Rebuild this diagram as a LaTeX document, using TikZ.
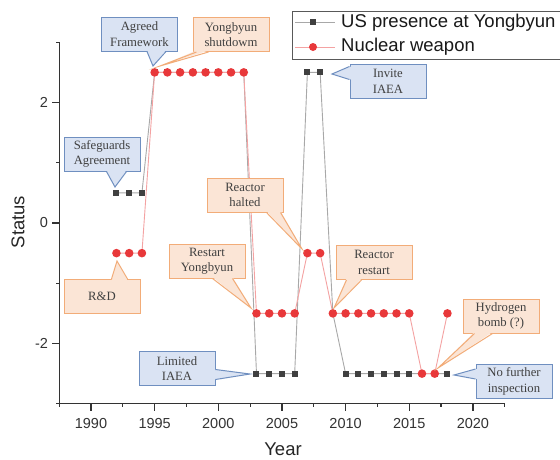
\documentclass[tikz,border=0pt]{standalone}
\usepackage{fontspec}
\setmainfont{Liberation Serif}
\setsansfont{Liberation Sans}
\usetikzlibrary{calc}
\definecolor{bluefill}{HTML}{DAE3F3}
\definecolor{blueedge}{HTML}{6F8FC0}
\definecolor{orangefill}{HTML}{FBE5D6}
\definecolor{orangeedge}{HTML}{F2AC78}
\definecolor{calltext}{HTML}{404040}
\definecolor{axiscol}{HTML}{333333}
\definecolor{markgray}{HTML}{404040}
\definecolor{markred}{HTML}{E8383A}
\definecolor{linegray}{HTML}{A8A8A8}
\definecolor{linered}{HTML}{F4A2A2}
\newcommand\callfont{\fontsize{12.7}{15.5}\selectfont}
% #1 colour prefix, #2 anchor, #3 #4 base offsets, #5 tip, #6 inward shift
\newcommand\callptr[6]{%
  \fill[#1fill] ($(#2)+(#3)+(#6)$) -- (#5) -- ($(#2)+(#4)+(#6)$) -- cycle;
  \draw[#1edge, line width=1pt, line join=miter, miter limit=30] ($(#2)+(#3)$) -- (#5) -- ($(#2)+(#4)$);}
\begin{document}
\begin{tikzpicture}[x=1pt,y=-1pt,
  callout/.style={minimum width=76pt, minimum height=34pt, inner sep=0pt, align=center,
    font=\callfont, text=calltext, line width=1pt},
  bluec/.style={callout, draw=blueedge, fill=bluefill},
  orangec/.style={callout, draw=orangeedge, fill=orangefill},
  axisline/.style={draw=axiscol, line width=1.2pt},
  ticklab/.style={font=\sffamily\fontsize{14.5}{16}\selectfont, text=axiscol, inner sep=0pt},
  axislab/.style={font=\sffamily\fontsize{18.5}{20}\selectfont, text=black!85, inner sep=0pt},
  legtext/.style={font=\sffamily\fontsize{18.5}{20}\selectfont, text=black!90, inner sep=0pt},
  blackline/.style={draw=linegray, line width=0.9pt},
  redline/.style={draw=linered, line width=0.9pt}]
\useasboundingbox (0,0) rectangle (560,459);
\clip (0,0) rectangle (560,459);
\fill[white] (0,0) rectangle (560,459);

% ---------------- data area ----------------
\begin{scope}[shift={(91pt,-223pt)}, x=12.73pt, y=60.25pt]
  % axes
  \draw[axisline, line cap=rect] (-2.5,3) -- (-2.5,-3) -- (32.5,-3);
  \foreach \v in {-2,0,2} {
    \draw[axisline] (-2.5,\v) -- ++(-7pt,0pt);
    \node[ticklab, anchor=east, xshift=-11pt] (yl\v) at (-2.5,\v) {\v};
  }
  \foreach \v in {-3,-1,1,3} \draw[axisline] (-2.5,\v) -- ++(-3.5pt,0pt);
  \foreach \yr/\lab in {0/1990,5/1995,10/2000,15/2005,20/2010,25/2015,30/2020} {
    \draw[axisline] (\yr,-3) -- ++(0pt,-7pt);
    \node[ticklab, yshift=-20pt] (xl\lab) at (\yr,-3) {\lab};
  }
  \foreach \yr in {-2.5,2.5,7.5,12.5,17.5,22.5,27.5,32.5} \draw[axisline] (\yr,-3) -- ++(0pt,-3.5pt);

  % US presence at Yongbyun
  \foreach \i/\v in {2/0.5,3/0.5,4/0.5,5/2.5,6/2.5,7/2.5,8/2.5,9/2.5,10/2.5,11/2.5,12/2.5,
      13/-2.5,14/-2.5,15/-2.5,16/-2.5,17/2.5,18/2.5,19/-1.5,20/-2.5,21/-2.5,22/-2.5,23/-2.5,
      24/-2.5,25/-2.5,26/-2.5,27/-2.5,28/-2.5}
    \coordinate (b\i) at (\i,\v);
  % Nuclear weapon
  \foreach \i/\v in {2/-0.5,3/-0.5,4/-0.5,5/2.5,6/2.5,7/2.5,8/2.5,9/2.5,10/2.5,11/2.5,12/2.5,
      13/-1.5,14/-1.5,15/-1.5,16/-1.5,17/-0.5,18/-0.5,19/-1.5,20/-1.5,21/-1.5,22/-1.5,23/-1.5,
      24/-1.5,25/-1.5,26/-2.5,27/-2.5,28/-1.5}
    \coordinate (r\i) at (\i,\v);
\end{scope}

\draw[blackline] (b2) \foreach \i in {3,...,28} { -- (b\i) };
\foreach \i in {2,...,28} \fill[markgray] (b\i) ++(-3,-3) rectangle ++(6,6);
\draw[redline] (r2) \foreach \i in {3,...,28} { -- (r\i) };
\foreach \i in {2,...,28} \fill[markred] (r\i) circle[radius=4.3pt];

% axis titles
\node[axislab, rotate=90] (ylab) at (18,222) {Status};
\node[axislab] (xlab) at (283,449) {Year};

% ---------------- legend ----------------
\draw[draw=black!65, line width=0.8pt, fill=white] (292,11) rectangle (620,59);
\draw[blackline] (295,22) coordinate (lg1a) -- (335,22) coordinate (lg1b);
\fill[markgray] (313,22) ++(-3,-3) rectangle ++(6,6);
\node[legtext, anchor=west] (leg1) at (341,22.5) {US presence at Yongbyun};
\draw[redline] (295,47) coordinate (lg2a) -- (335,47) coordinate (lg2b);
\fill[markred] (313,47) circle[radius=4pt];
\node[legtext, anchor=west] (leg2) at (341,46.5) {Nuclear weapon};

% ---------------- callouts ----------------
\node[bluec] (af) at (139.5,34) {Agreed\\Framework};
\callptr{blue}{af.south west}{46,0}{65,0}{153,66}{0,-1.5}

\node[orangec] (ys) at (231,34.5) {Yongbyun\\shutdowm};
\callptr{orange}{ys.south west}{4,0}{16,0}{160,66}{0,-1.5}

\node[bluec] (sa) at (102,154) {Safeguards\\Agreement};
\callptr{blue}{sa.south west}{43,0}{63,0}{115,187}{0,-1.5}

\node[orangec] (rh) at (245,195) {Reactor\\halted};
\callptr{orange}{rh.south west}{60,0}{74,0}{302,249}{0,-1.5}

\node[orangec] (ry) at (207,261) {Restart\\Yongbyun};
\callptr{orange}{ry.south west}{44,0}{64,0}{251,308}{0,-1.5}

\node[orangec] (rd) at (102,296.5) {R\&D};
\callptr{orange}{rd.north west}{48,0}{64,0}{117,261}{0,1.5}

\node[bluec] (li) at (177,368.5) {Limited\\IAEA};
\callptr{blue}{li.north east}{0,18.5}{0,28.5}{250,374}{-1.5,0}

\node[bluec] (ii) at (388,81.5) {Invite\\IAEA};
\callptr{blue}{ii.north west}{0,2.5}{0,15.5}{332,74}{1.5,0}

\node[orangec] (rr) at (374,262.5) {Reactor\\restart};
\callptr{orange}{rr.south west}{11,0}{26,0}{334,308}{0,-1.5}

\node[orangec] (hb) at (501,316) {Hydrogen\\bomb (?)};
\callptr{orange}{hb.south west}{12,0}{30,0}{438,368}{0,-1.5}

\node[bluec] (nf) at (514,381.5) {No further\\inspection};
\callptr{blue}{nf.north west}{0,5}{0,15}{454,375}{1.5,0}
\end{tikzpicture}
\end{document}
